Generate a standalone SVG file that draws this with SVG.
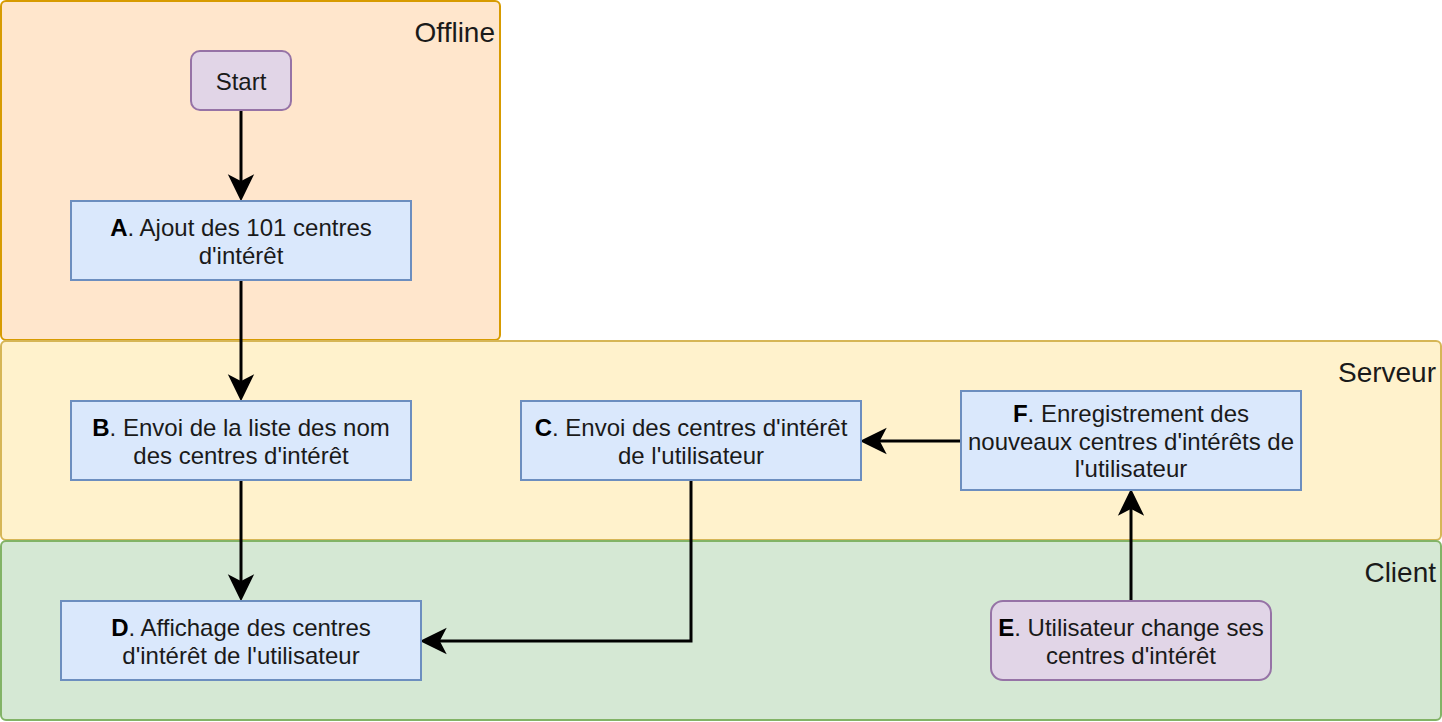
<svg xmlns="http://www.w3.org/2000/svg" width="1442" height="722" viewBox="0 0 1442 722">
<style>
text{font-family:"Liberation Sans",Arial,sans-serif;fill:#1a1a1a}
.lane-label{font-size:28px;text-anchor:end}
.node-text{font-size:24px;text-anchor:middle}
.box{fill:#dae8fc;stroke:#6c8ebf;stroke-width:2}
.term{fill:#e1d5e7;stroke:#9673a6;stroke-width:2}
.edge{fill:none;stroke:#000;stroke-width:3;marker-end:url(#arrow)}
.b{font-weight:bold;fill:#000}
</style>
<defs>
<marker id="arrow" markerUnits="userSpaceOnUse" markerWidth="28" markerHeight="28" viewBox="0 0 28 28" refX="8" refY="14" orient="auto">
<path d="M2,2.5 L25.5,14 L2,25.5 L8,14 Z" fill="#000" stroke="#000" stroke-width="1.5" stroke-linejoin="miter"/>
</marker>
</defs>
<rect width="1442" height="722" fill="#fff"/>
<g id="lane-offline">
<rect x="1" y="1" width="499" height="339" rx="5" fill="#ffe6cc" stroke="#d79b00" stroke-width="2"/>
<text class="lane-label" x="495" y="42">Offline</text>
</g>
<g id="lane-serveur">
<rect x="1" y="341" width="1440" height="199" rx="5" fill="#fff2cc" stroke="#d6b656" stroke-width="2"/>
<text class="lane-label" x="1436" y="382">Serveur</text>
</g>
<g id="lane-client">
<rect x="1" y="541" width="1440" height="179" rx="5" fill="#d5e8d4" stroke="#82b366" stroke-width="2"/>
<text class="lane-label" x="1436" y="582">Client</text>
</g>
<g id="connectors">
<path class="edge" d="M241,111 V182"/>
<path class="edge" d="M241,281 V382"/>
<path class="edge" d="M241,481 V582"/>
<path class="edge" d="M691,481 V641 H439"/>
<path class="edge" d="M961,441 H879"/>
<path class="edge" d="M1131,601 V508"/>
</g>
<g id="node-start">
<rect class="term" x="191" y="51" width="100" height="59" rx="9"/>
<text class="node-text" x="241" y="90">Start</text>
</g>
<g id="node-a">
<rect class="box" x="71" y="201" width="340" height="79"/>
<text class="node-text" x="241" y="236"><tspan class="b">A</tspan>. Ajout des 101 centres</text>
<text class="node-text" x="241" y="263.5">d'intérêt</text>
</g>
<g id="node-b">
<rect class="box" x="71" y="401" width="340" height="79"/>
<text class="node-text" x="241" y="436"><tspan class="b">B</tspan>. Envoi de la liste des nom</text>
<text class="node-text" x="241" y="463.5">des centres d'intérêt</text>
</g>
<g id="node-c">
<rect class="box" x="521" y="401" width="340" height="79"/>
<text class="node-text" x="691" y="436"><tspan class="b">C</tspan>. Envoi des centres d'intérêt</text>
<text class="node-text" x="691" y="463.5">de l'utilisateur</text>
</g>
<g id="node-f">
<rect class="box" x="961" y="391" width="340" height="99"/>
<text class="node-text" x="1131" y="422"><tspan class="b">F</tspan>. Enregistrement des</text>
<text class="node-text" x="1131" y="449.5">nouveaux centres d'intérêts de</text>
<text class="node-text" x="1131" y="477">l'utilisateur</text>
</g>
<g id="node-d">
<rect class="box" x="61" y="601" width="360" height="79"/>
<text class="node-text" x="241" y="636"><tspan class="b">D</tspan>. Affichage des centres</text>
<text class="node-text" x="241" y="663.5">d'intérêt de l'utilisateur</text>
</g>
<g id="node-e">
<rect class="term" x="991" y="601" width="280" height="79" rx="12"/>
<text class="node-text" x="1131" y="636"><tspan class="b">E</tspan>. Utilisateur change ses</text>
<text class="node-text" x="1131" y="663.5">centres d'intérêt</text>
</g>
</svg>
